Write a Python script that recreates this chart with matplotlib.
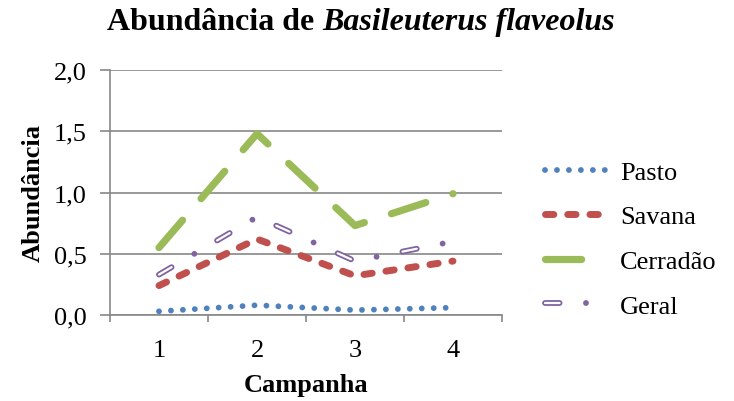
#!/usr/bin/env python3
# -*- coding:utf-8 -*-
"""
Abundancia de Basileuterus flaveolus por campanha e por ambiente
"""
import matplotlib
matplotlib.use('Agg')
import matplotlib.pyplot as plt
from matplotlib.lines import Line2D
from matplotlib.ticker import FuncFormatter, FixedLocator

# dados
campanhas = [1, 2, 3, 4]
pasto = [0.03, 0.08, 0.04, 0.06]
savana = [0.24, 0.62, 0.32, 0.44]
cerradao = [0.55, 1.48, 0.73, 0.99]
geral = [0.33, 0.80, 0.44, 0.60]
y_ticks = [0.0, 0.5, 1.0, 1.5, 2.0]

plt.rcParams['font.family'] = ['Liberation Serif', 'DejaVu Serif']
plt.rcParams['lines.scale_dashes'] = False

AZUL = '#4F81BD'
VERMELHO = '#C0504D'
VERDE = '#9BBB59'
ROXO = '#8064A2'
CINZA = '#888888'
FS = 19

# estilos das linhas (tracos em pontos)
EST_PASTO = dict(color=AZUL, lw=4.2, ls=(0, (0.01, 8.6)),
                 dash_capstyle='round', solid_capstyle='round')
EST_SAVANA = dict(color=VERMELHO, lw=5.0, ls=(0, (6.0, 10.0)),
                  dash_capstyle='round')
EST_CERRADAO = dict(color=VERDE, lw=5.2, ls=(0, (26.0, 20.5)),
                    dash_capstyle='round')
EST_GERAL = dict(color=ROXO, lw=4.2, ls=(0, (10.5, 19.0, 0.01, 19.0)),
                 dash_capstyle='round')
EST_GERAL_IN = dict(color='white', lw=1.6, ls=(0, (10.5, 38.01)),
                    dash_capstyle='round')


def virgula(v, pos):
    return ('%.1f' % v).replace('.', ',')


def main():
    fig = plt.figure(figsize=(7.34, 4.02), dpi=100)
    ax = fig.add_axes([110 / 734, 1 - 316 / 402, 392 / 734, 245 / 402])

    ax.plot(campanhas, pasto, **EST_PASTO)
    ax.plot(campanhas, savana, **EST_SAVANA)
    ax.plot(campanhas, cerradao, **EST_CERRADAO)
    ax.plot(campanhas, geral, **EST_GERAL)
    ax.plot(campanhas, geral, **EST_GERAL_IN)

    ax.set_xlim(0.5, 4.5)
    ax.set_ylim(0, 2.0)
    ax.set_yticks(y_ticks)
    ax.yaxis.set_major_formatter(FuncFormatter(virgula))
    ax.set_xticks(campanhas)
    ax.set_xticklabels([str(c) for c in campanhas])
    # marcas do eixo x entre as categorias
    ax.xaxis.set_minor_locator(FixedLocator([0.5, 1.5, 2.5, 3.5, 4.5]))
    ax.tick_params(axis='x', which='major', length=0, pad=17, labelsize=FS)
    ax.tick_params(axis='x', which='minor', length=5, width=1.2, color=CINZA)
    ax.tick_params(axis='y', length=7, width=1.2, color=CINZA, pad=10,
                   labelsize=FS)

    ax.grid(axis='y', color=CINZA, lw=1.2)
    ax.set_axisbelow(True)
    for s in ['top', 'right']:
        ax.spines[s].set_visible(False)
    for s in ['left', 'bottom']:
        ax.spines[s].set_color(CINZA)
        ax.spines[s].set_linewidth(1.2)

    ax.set_xlabel('Campanha', fontsize=FS, fontweight='bold', labelpad=9)
    ax.set_ylabel('Abundância', fontsize=FS, fontweight='bold', labelpad=6)

    # titulo com o nome da especie em italico
    r = fig.canvas.get_renderer()
    t1 = fig.text(107 / 734, 1 - 30 / 402, 'Abundância de', fontsize=23,
                  fontweight='bold', va='baseline', ha='left')
    bb = t1.get_window_extent(r)
    fig.text((bb.x1 + 8) / 734, 1 - 30 / 402, 'Basileuterus flaveolus',
             fontsize=23, fontweight='bold', style='italic',
             va='baseline', ha='left')

    # legenda
    h_pasto = Line2D([], [], **EST_PASTO)
    h_savana = Line2D([], [], **EST_SAVANA)
    h_cerradao = Line2D([], [], **EST_CERRADAO)
    h_geral = (Line2D([], [], **EST_GERAL), Line2D([], [], **EST_GERAL_IN))
    fig.legend([h_pasto, h_savana, h_cerradao, h_geral],
               ['Pasto', 'Savana', 'Cerradão', 'Geral'],
               loc='center left', bbox_to_anchor=(545 / 734, 1 - 240 / 402),
               frameon=False, fontsize=FS, borderpad=0, borderaxespad=0,
               handlelength=2.4, handletextpad=0.45, labelspacing=0.8)

    fig.savefig('out.png', dpi=100)


if __name__ == '__main__':
    main()
